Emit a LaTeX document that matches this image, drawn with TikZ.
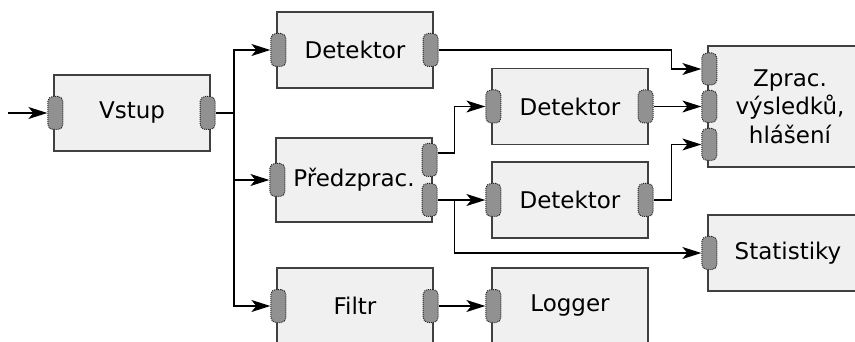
\documentclass[tikz,border=0pt]{standalone}
\usepackage{fontspec}
\setmainfont{DejaVu Sans}
\usetikzlibrary{arrows.meta,positioning}

\begin{document}
\begin{tikzpicture}[x=1pt,y=-1pt,>={Stealth[length=19pt,width=12pt,inset=5pt]},
  block/.style={draw=black!75,line width=1.3pt,fill=black!6,minimum width=156pt,
    minimum height=76pt,inner sep=0pt,align=center,
    font=\fontsize{23pt}{28.5pt}\selectfont},
  port/.style={draw=black!85,densely dotted,line width=1pt,fill=black!43,
    rounded corners=5pt,minimum width=15pt,minimum height=33pt,inner sep=0pt},
  wire/.style={line width=1.3pt}]
\useasboundingbox (0,0) rectangle (855,342);

\node[block] (vstup) at (132,113) {Vstup};
\node[block] (det1) at (355,50) {Detektor};
\node[block,minimum height=84pt] (pre) at (354,180) {P\v{r}edzprac.};
\node[block] (det2) at (570,106.5) {Detektor};
\node[block] (det3) at (570,200) {Detektor};
\node[block,minimum width=164pt,minimum height=121pt] (zprac) at (790,106.5)
  {Zprac.\\výsledků,\\hlášení};
\node[block,minimum width=160pt] (stat) at (788,253) {Statistiky};
\node[block] (filtr) at (355,306) {Filtr};
\node[block] (logger) at (570,306) {Logger};

% ports on the block borders
\node[port] (vstup-in) at ([xshift=2pt]vstup.west) {};
\node[port] (vstup-out) at ([xshift=-3pt]vstup.east) {};
\node[port] (det1-in) at ([xshift=2pt]det1.west) {};
\node[port] (det1-out) at ([xshift=-3pt]det1.east) {};
\node[port] (pre-in) at ([xshift=2pt]pre.west) {};
\node[port] (pre-out1) at ([xshift=-3pt,yshift=20pt]pre.east) {};
\node[port] (pre-out2) at ([xshift=-3pt,yshift=-20pt]pre.east) {};
\node[port] (det2-in) at ([xshift=2pt]det2.west) {};
\node[port] (det2-out) at ([xshift=-3pt]det2.east) {};
\node[port] (det3-in) at ([xshift=2pt]det3.west) {};
\node[port] (det3-out) at ([xshift=-3pt]det3.east) {};
\node[port,minimum height=32pt] (zprac-in1) at ([xshift=2pt,yshift=37.5pt]zprac.west) {};
\node[port,minimum height=32pt] (zprac-in2) at ([xshift=2pt]zprac.west) {};
\node[port,minimum height=32pt] (zprac-in3) at ([xshift=2pt,yshift=-38pt]zprac.west) {};
\node[port] (stat-in) at ([xshift=2pt]stat.west) {};
\node[port] (filtr-in) at ([xshift=2pt]filtr.west) {};
\node[port] (filtr-out) at ([xshift=-3pt]filtr.east) {};
\node[port] (logger-in) at ([xshift=2pt]logger.west) {};

\coordinate (start) at (8,113);
\coordinate (bus) at (234,113);
\coordinate (split) at ([xshift=-31pt]det3-in.west);

\draw[wire,->] (start) -- (vstup-in);
\draw[wire] (vstup-out) -- (bus);
\draw[wire,->] (bus) |- (det1-in);
\draw[wire,->] (bus) |- (pre-in);
\draw[wire,->] (bus) |- (filtr-in);

\draw[wire,->] (det1-out) -| ([xshift=-30pt]zprac-in1.west) -- (zprac-in1);
\draw[wire,->] (det2-out) -- (zprac-in2);
\draw[wire,->] (det3-out) -| ([xshift=-30pt]zprac-in3.west) -- (zprac-in3);

\draw[wire,->] ([yshift=7pt]pre-out1.east) -| ([xshift=-31pt]det2-in.west) -- (det2-in);
\draw[wire,->] (pre-out2) -- (det3-in);
\draw[wire,->] (split) |- (stat-in);

\draw[wire,->] (filtr-out) -- (logger-in);
\end{tikzpicture}
\end{document}
